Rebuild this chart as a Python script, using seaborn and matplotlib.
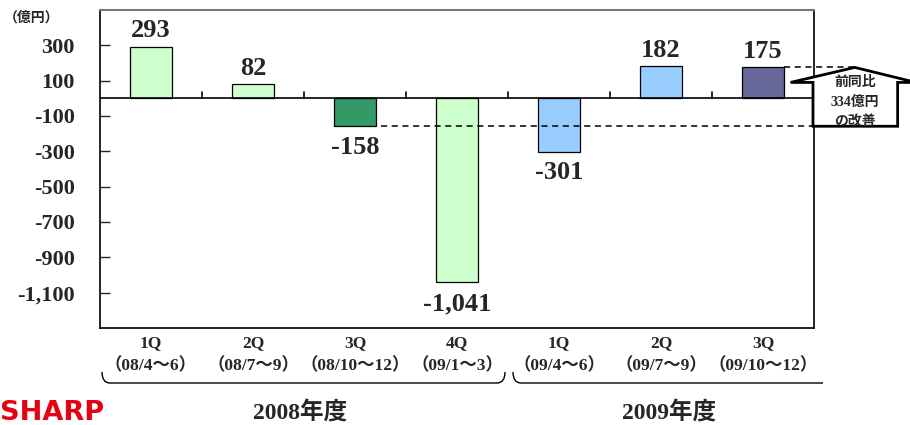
import numpy as np
import pandas as pd
import matplotlib
matplotlib.use("Agg")
import matplotlib.pyplot as plt
from matplotlib.path import Path
from matplotlib.patches import PathPatch, Polygon
from matplotlib.ticker import FixedLocator, FuncFormatter
import seaborn as sns

# data (operating income, 100M yen)
quarters = ["1Q\n（08/4～6）", "2Q\n（08/7～9）", "3Q\n（08/10～12）", "4Q\n（09/1～3）",
            "1Q\n（09/4～6）", "2Q\n（09/7～9）", "3Q\n（09/10～12）"]
values = [293, 82, -158, -1041, -301, 182, 175]
bar_colors = ["#CCFFCC", "#CCFFCC", "#339966", "#CCFFCC", "#99CCFF", "#99CCFF", "#666699"]
years = ["2008年度", "2009年度"]
yticks = [300, 100, -100, -300, -500, -700, -900, -1100]

df = pd.DataFrame({"quarter": quarters, "value": values})

sns.set_style("white")
plt.rcParams["font.family"] = ["Liberation Serif", "Noto Sans CJK JP"]
plt.rcParams["font.weight"] = "bold"

fig = plt.figure(figsize=(9.1, 4.25), dpi=100)

# overlay axes in pixel coordinates for brackets / logo
ov = fig.add_axes([0, 0, 1, 1], zorder=0)
ov.set_xlim(0, 910)
ov.set_ylim(425, 0)
ov.axis("off")

ax = fig.add_axes([100 / 910, 97 / 425, 714 / 910, 318 / 425], zorder=1)
ax.patch.set_alpha(0)

sns.barplot(data=df, x="quarter", y="value", hue="quarter", palette=bar_colors,
            saturation=1, width=0.41, edgecolor="black", linewidth=0.9,
            legend=False, ax=ax)

ax.set_xlim(-0.5, 6.5)
ax.set_ylim(-1300, 500)
ax.set_xlabel("")
ax.set_ylabel("")

ax.yaxis.set_major_locator(FixedLocator(yticks))
ax.yaxis.set_major_formatter(FuncFormatter(lambda v, p: f"{int(v):,}"))
ax.tick_params(axis="y", direction="in", length=7, width=1, pad=18, labelsize=16, left=True)
ax.tick_params(axis="x", length=0, pad=5, labelsize=12.5)
for t in ax.get_xticklabels():
    t.set_linespacing(1.5)

for s in ["left", "bottom", "right"]:
    ax.spines[s].set_color("black")
    ax.spines[s].set_linewidth(1.2)
ax.spines["top"].set_color("#777777")
ax.spines["top"].set_linewidth(1.5)

# zero line with category ticks
ax.axhline(0, color="black", lw=1.2, zorder=3)
for b in np.arange(0.5, 6.0, 1.0):
    ax.plot([b, b], [0, 34], color="black", lw=1.2, zorder=3)

# value labels
for i, v in enumerate(values):
    if v >= 0:
        ax.annotate(f"{v:,}", (i, v), xytext=(0, 3), textcoords="offset points",
                    ha="center", va="bottom", fontsize=19, fontweight="bold")
    else:
        ax.annotate(f"{v:,}", (i, v), xytext=(0, -7), textcoords="offset points",
                    ha="center", va="top", fontsize=19, fontweight="bold")

# dashed comparison lines
ax.plot([2 + 0.255, 6.49], [values[2], values[2]], ls=(0, (4, 3)), color="black", lw=1.1,
        clip_on=False, zorder=4)
ax.plot([6 + 0.205, 6.9], [values[6], values[6]], ls=(0, (4, 3)), color="black", lw=1.1,
        clip_on=False, zorder=4)

# up arrow: from -158 to 175
arrow_pts = [(6.49, values[2]), (6.49, 90), (6.27, 90), (6.9, values[6]), (7.5, 90),
             (7.32, 90), (7.32, values[2])]
ax.add_patch(Polygon(arrow_pts, closed=True, facecolor="white", edgecolor="black",
                     lw=2, clip_on=False, zorder=5))
for txt, yy in [("前同比", 88), ("334億円", -25), ("の改善", -132)]:
    ax.text(6.9, yy, txt, ha="center", va="center", fontsize=10, fontweight="bold",
            zorder=6, clip_on=False)

# unit
fig.text(32 / 910, 1 - 18 / 425, "（億円）", ha="center", va="center", fontsize=10,
         fontweight="bold")

# fiscal year brackets
def bracket(x0, x1, y, right_curl=True):
    h = 11
    verts = [(x0, y - h), (x0, y), (x0 + 8, y), (x1 - 8 if right_curl else x1, y)]
    codes = [Path.MOVETO, Path.CURVE3, Path.CURVE3, Path.LINETO]
    if right_curl:
        verts += [(x1, y), (x1, y - h)]
        codes += [Path.CURVE3, Path.CURVE3]
    ov.add_patch(PathPatch(Path(verts, codes), fill=False, lw=1, color="black"))

bracket(102, 505, 383)
bracket(513, 823, 383, right_curl=False)

ov.text(300, 413, years[0], ha="center", va="center", fontsize=17, fontweight="bold")
ov.text(669, 413, years[1], ha="center", va="center", fontsize=17, fontweight="bold")

# logo
ov.text(0, 420, "SHARP", ha="left", va="baseline", fontsize=19.5, fontweight="bold",
        color="#E60012", family="DejaVu Sans")

fig.savefig("out.png", dpi=100)
